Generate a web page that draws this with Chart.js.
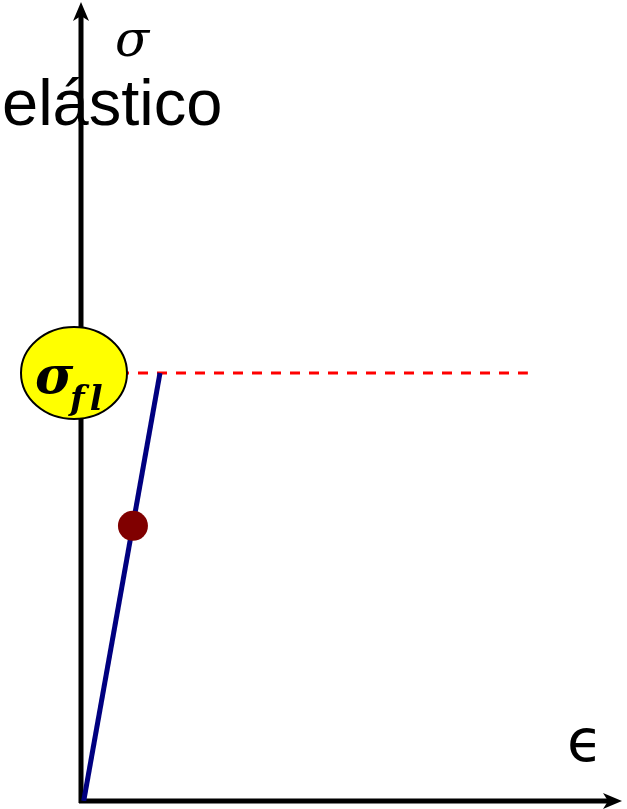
<!DOCTYPE html>
<html>
<head>
<meta charset="utf-8">
<script src="https://cdn.jsdelivr.net/npm/chart.js@4/dist/chart.umd.min.js"></script>
<style>
  html, body { margin: 0; padding: 0; background: #fff; }
  canvas { display: block; }
</style>
</head>
<body>
<canvas id="chart" width="627" height="809"></canvas>
<script>
// stress-strain sketch, sigma normalised so the yield stress is 1
const strainElastic = [0.005, 0.146];
const stressElastic = [0, 1];
const yieldStress = 1;
const yieldLineEnd = 0.826;
const samplePoint = [0.096, 0.643];
const labels = { stress: 'σ', strain: 'ϵ', title: 'elástico', yieldMain: 'σ', yieldSub: 'fl' };

const axesPlugin = {
    id: 'axes',
    beforeDatasetsDraw(chart) {
        const { ctx, scales: { x, y } } = chart;
        const x0 = x.getPixelForValue(0);
        const y0 = y.getPixelForValue(0);
        const xEnd = x.getPixelForValue(x.max);
        const yEnd = y.getPixelForValue(y.max);
        ctx.save();
        ctx.strokeStyle = '#000';
        ctx.fillStyle = '#000';
        ctx.lineWidth = 5;
        ctx.lineCap = 'butt';
        ctx.beginPath();
        ctx.moveTo(x0, y0 + 2);
        ctx.lineTo(x0, yEnd + 14);
        ctx.moveTo(x0 - 2, y0);
        ctx.lineTo(xEnd - 14, y0);
        ctx.stroke();
        // arrow heads
        ctx.beginPath();
        ctx.moveTo(x0, yEnd);
        ctx.lineTo(x0 - 8, yEnd + 19);
        ctx.lineTo(x0, yEnd + 14);
        ctx.lineTo(x0 + 8, yEnd + 19);
        ctx.closePath();
        ctx.fill();
        ctx.beginPath();
        ctx.moveTo(xEnd, y0);
        ctx.lineTo(xEnd - 19, y0 - 8);
        ctx.lineTo(xEnd - 14, y0);
        ctx.lineTo(xEnd - 19, y0 + 8);
        ctx.closePath();
        ctx.fill();
        ctx.restore();
    },
    afterDatasetsDraw(chart) {
        const { ctx, scales: { x, y } } = chart;
        const x0 = x.getPixelForValue(0);
        const yf = y.getPixelForValue(yieldStress);
        ctx.save();
        // yield stress marker
        ctx.beginPath();
        ctx.ellipse(x0 - 7, yf, 53, 46, 0, 0, Math.PI * 2);
        ctx.fillStyle = '#ffff00';
        ctx.fill();
        ctx.lineWidth = 2;
        ctx.strokeStyle = '#000';
        ctx.stroke();
        ctx.fillStyle = '#000';
        ctx.textBaseline = 'alphabetic';
        ctx.font = 'bold italic 52px "DejaVu Serif"';
        ctx.fillText(labels.yieldMain, x0 - 46, yf + 20);
        ctx.font = 'bold italic 34px "DejaVu Serif"';
        ctx.letterSpacing = '5px';
        ctx.fillText(labels.yieldSub, x0 - 11, yf + 37);
        ctx.letterSpacing = '0px';
        // axis labels
        ctx.font = 'italic 50px "DejaVu Serif"';
        ctx.fillText(labels.stress, x0 + 34, 56);
        ctx.font = '65px "Liberation Sans"';
        ctx.fillText(labels.title, 2, 125);
        ctx.font = '58px "DejaVu Sans"';
        ctx.fillText(labels.strain, 567, 761);
        ctx.restore();
    }
};

new Chart(document.getElementById('chart'), {
    type: 'scatter',
    data: {
        datasets: [
            {
                data: [{ x: 0, y: yieldStress }, { x: yieldLineEnd, y: yieldStress }],
                showLine: true,
                borderColor: '#ff0000',
                borderWidth: 3,
                borderDash: [10, 9],
                pointRadius: 0,
                order: 3
            },
            {
                data: strainElastic.map((e, i) => ({ x: e, y: stressElastic[i] })),
                showLine: true,
                borderColor: '#000080',
                borderWidth: 5,
                pointRadius: 0,
                order: 2
            },
            {
                data: [{ x: samplePoint[0], y: samplePoint[1] }],
                pointRadius: 15,
                pointBackgroundColor: '#800000',
                pointBorderWidth: 0,
                order: 1
            }
        ]
    },
    options: {
        responsive: false,
        animation: false,
        layout: { autoPadding: false, padding: { left: 81, right: 5, top: 2, bottom: 8 } },
        plugins: { legend: { display: false }, tooltip: { enabled: false } },
        scales: {
            x: { type: 'linear', min: 0, max: 1, display: false },
            y: { type: 'linear', min: 0, max: 1.8668, display: false }
        }
    },
    plugins: [axesPlugin]
});
</script>
</body>
</html>
